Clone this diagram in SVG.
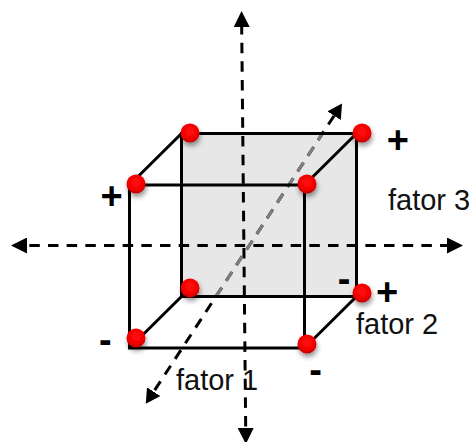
<svg xmlns="http://www.w3.org/2000/svg" width="472" height="442" viewBox="0 0 472 442">
<style>
.edge{fill:none;stroke:#000;stroke-width:3}
.axis{fill:none;stroke:#000;stroke-width:3;stroke-dasharray:10.500 8.170}
.grey{fill:none;stroke:#7f7f7f;stroke-width:3;stroke-dasharray:10.500 8.170}
.lbl{font-family:"Liberation Sans",Arial,sans-serif;font-size:29px;fill:#111}
.sign{font-family:"Liberation Sans",Arial,sans-serif;font-size:38px;font-weight:bold;fill:#000;text-anchor:middle}
</style>
<defs>
<radialGradient id="ball" cx="0.5" cy="0.42" r="0.58"><stop offset="0" stop-color="#ff1010"/><stop offset="0.7" stop-color="#f40000"/><stop offset="1" stop-color="#b80000"/></radialGradient>
<filter id="sh" x="-60%" y="-60%" width="220%" height="220%"><feDropShadow dx="1" dy="3.500" stdDeviation="2.500" flood-color="#000" flood-opacity="0.42"/></filter>
<marker id="arr" viewBox="0 0 16 16" refX="0" refY="8" markerWidth="16" markerHeight="16" markerUnits="userSpaceOnUse" orient="auto-start-reverse"><path d="M0 0L16 8L0 16Z" fill="#000"/></marker>
<marker id="arrd" viewBox="0 0 14.500 16" refX="0" refY="8" markerWidth="14.500" markerHeight="16" markerUnits="userSpaceOnUse" orient="auto-start-reverse"><path d="M0 0L14.500 8L0 16Z" fill="#000"/></marker>
<clipPath id="inner"><rect x="181.500" y="133" width="175" height="163.500"/></clipPath>
<symbol id="s" overflow="visible"><circle r="9.500" fill="url(#ball)" filter="url(#sh)"/></symbol>
</defs>
<rect id="back-face" x="181.500" y="133.500" width="175" height="163" fill="#e7e7e7"/>
<g id="connectors">
<path class="axis" stroke-dashoffset="3" d="M241.700 27L245.700 428" marker-start="url(#arr)" marker-end="url(#arr)"/>
<path class="axis" stroke-dashoffset="16.370" d="M27 245.500H447" marker-start="url(#arr)" marker-end="url(#arr)"/>
<path class="axis" d="M334.100 115.700L153.700 391.700" marker-start="url(#arrd)" marker-end="url(#arrd)"/>
<path class="grey" d="M334.100 115.700L153.700 391.700" clip-path="url(#inner)"/>
<path class="edge" d="M181.500 133.500H356.500V296.500H181.500Z"/>
<path class="edge" d="M129.500 185H304.500V348H129.500Z"/>
<path class="edge" d="M181.500 133.500L129.500 185M356.500 133.500L304.500 185M356.500 296.500L304.500 348M181.500 296.500L129.500 348"/>
</g>
<g id="v1"><use href="#s" x="190" y="133"/></g>
<g id="v2"><use href="#s" x="136" y="184"/></g>
<g id="v3"><use href="#s" x="362" y="133"/></g>
<g id="v4"><use href="#s" x="307" y="184"/></g>
<g id="v5"><use href="#s" x="362" y="293"/></g>
<g id="v6"><use href="#s" x="307" y="344"/></g>
<g id="v7"><use href="#s" x="190" y="288"/></g>
<g id="v8"><use href="#s" x="136" y="338"/></g>
<g id="labels">
<text class="lbl" x="388" y="210">fator 3</text>
<text class="lbl" x="356" y="333.500">fator 2</text>
<text class="lbl" x="176" y="389.500">fator 1</text>
<text class="sign" x="397.800" y="152.600">+</text>
<text class="sign" x="111.700" y="209">+</text>
<text class="sign" x="387" y="304.600">+</text>
<text class="sign" x="344" y="291.700">-</text>
<text class="sign" x="105.300" y="353.300">-</text>
<text class="sign" x="315.500" y="382.500">-</text>
</g>
</svg>
